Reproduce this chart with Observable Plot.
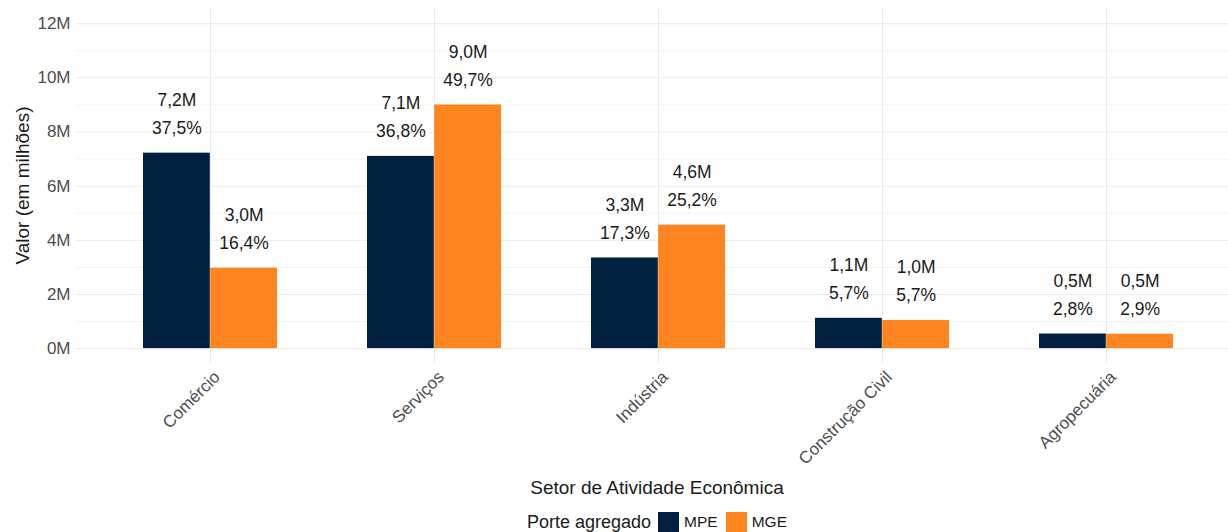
<!DOCTYPE html>
<html>
<head>
<meta charset="utf-8">
<script src="https://cdn.jsdelivr.net/npm/d3@7"></script>
<script src="https://cdn.jsdelivr.net/npm/@observablehq/plot@0.6"></script>
<style>
  body { margin: 0; background: #fff; font-family: "Liberation Sans", Arial, sans-serif; }
  #legend { display: flex; align-items: center; height: 40px; color: #1a1a1a; padding-left: 527px; }
  #legend .title { font-size: 18px; margin-right: 7px; }
  #legend .key { width: 21px; height: 21px; display: inline-block; margin-right: 5px; }
  #legend .lab { font-size: 15.5px; margin-right: 8px; }
</style>
</head>
<body>
<div id="chart"></div>
<div id="legend"></div>
<script>
const sectors = ["Comércio", "Serviços", "Indústria", "Construção Civil", "Agropecuária"];
const mpeValues = [7.22, 7.10, 3.35, 1.12, 0.54];
const mgeValues = [2.97, 9.00, 4.56, 1.04, 0.53];
const mpeValueLabels = ["7,2M", "7,1M", "3,3M", "1,1M", "0,5M"];
const mpePctLabels = ["37,5%", "36,8%", "17,3%", "5,7%", "2,8%"];
const mgeValueLabels = ["3,0M", "9,0M", "4,6M", "1,0M", "0,5M"];
const mgePctLabels = ["16,4%", "49,7%", "25,2%", "5,7%", "2,9%"];
const series = ["MPE", "MGE"];
const colors = ["#01203f", "#fd841f"];
const yTicks = [0, 2, 4, 6, 8, 10, 12];
const yMinor = [1, 3, 5, 7, 9, 11];

const mpe = sectors.map((s, i) => ({sector: s, value: mpeValues[i], vlab: mpeValueLabels[i], plab: mpePctLabels[i]}));
const mge = sectors.map((s, i) => ({sector: s, value: mgeValues[i], vlab: mgeValueLabels[i], plab: mgePctLabels[i]}));

const half = 67.2;
const labFont = 17.5;
const labFill = "#1a1a1a";

const chart = Plot.plot({
  width: 1228,
  height: 502,
  marginTop: 7,
  marginBottom: 139,
  marginLeft: 76,
  marginRight: -13,
  style: {fontFamily: "Liberation Sans, Arial, sans-serif", fontSize: "17px", color: "#4d4d4d", background: "#fff"},
  x: {domain: sectors, paddingInner: 0.4, paddingOuter: 0.3, axis: null},
  y: {domain: [-0.55, 12.6], ticks: yTicks, tickFormat: d => d + "M", tickSize: 0, tickPadding: 6, label: null},
  marks: [
    Plot.ruleY(yMinor, {stroke: "#f3f3f3", strokeWidth: 1}),
    Plot.ruleY(yTicks, {stroke: "#ebebeb", strokeWidth: 1}),
    Plot.ruleX(sectors, {x: d => d, stroke: "#ebebeb", strokeWidth: 1}),
    Plot.barY(mpe, {x: "sector", y: "value", fill: colors[0], insetRight: half}),
    Plot.barY(mge, {x: "sector", y: "value", fill: colors[1], insetLeft: half}),
    Plot.text(mpe, {x: "sector", y: "value", text: "vlab", dx: -half / 2, dy: -53, fontSize: labFont, fill: labFill}),
    Plot.text(mpe, {x: "sector", y: "value", text: "plab", dx: -half / 2, dy: -25, fontSize: labFont, fill: labFill}),
    Plot.text(mge, {x: "sector", y: "value", text: "vlab", dx: half / 2, dy: -53, fontSize: labFont, fill: labFill}),
    Plot.text(mge, {x: "sector", y: "value", text: "plab", dx: half / 2, dy: -25, fontSize: labFont, fill: labFill}),
    Plot.text(sectors, {x: d => d, frameAnchor: "bottom", text: d => d, rotate: -45, textAnchor: "end", lineAnchor: "top", dx: 2, dy: 6, fontSize: 17, fill: "#4d4d4d"}),
    Plot.text(["Setor de Atividade Econômica"], {frameAnchor: "bottom", text: d => d, dy: 130, dx: -2, fontSize: 19, fill: "#1a1a1a"}),
    Plot.text(["Valor (em milhões)"], {frameAnchor: "left", text: d => d, rotate: -90, textAnchor: "middle", dx: -54, fontSize: 19, fill: "#1a1a1a"})
  ]
});
document.getElementById("chart").appendChild(chart);

const legend = document.getElementById("legend");
let html = '<span class="title">Porte agregado</span>';
series.forEach((s, i) => {
  html += `<span class="key" style="background:${colors[i]}"></span><span class="lab">${s}</span>`;
});
legend.innerHTML = html;
</script>
</body>
</html>
